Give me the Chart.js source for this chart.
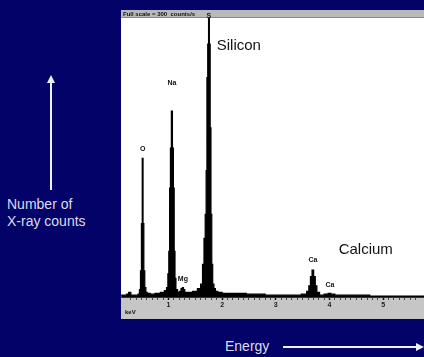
<!DOCTYPE html>
<html>
<head>
<meta charset="utf-8">
<script src="https://cdn.jsdelivr.net/npm/chart.js@4"></script>
<style>
  html, body { margin: 0; padding: 0; }
  body {
    width: 424px; height: 357px; overflow: hidden; position: relative;
    background: #020268; font-family: "Liberation Sans", Arial, sans-serif;
  }
  #spectrum { position: absolute; left: 121px; top: 10px; }
  .note { position: absolute; color: #dcdcec; font-size: 14px; line-height: 17px; }
  .vline { position: absolute; left: 50px; top: 82px; width: 2px; height: 108px; background: #f0f0f8; }
  .vhead { position: absolute; left: 47px; top: 75px; width: 0; height: 0;
    border-left: 4px solid transparent; border-right: 4px solid transparent; border-bottom: 8px solid #f0f0f8; }
  .hline { position: absolute; left: 283px; top: 346px; width: 134px; height: 2px; background: #f0f0f8; }
  .hhead { position: absolute; left: 416px; top: 343px; width: 0; height: 0;
    border-top: 4px solid transparent; border-bottom: 4px solid transparent; border-left: 8px solid #f0f0f8; }
</style>
</head>
<body>
<div class="vhead"></div>
<div class="vline"></div>
<div class="note" style="left:7px; top:196px;">Number of<br>X-ray counts</div>
<div class="note" style="left:225px; top:338px;">Energy</div>
<div class="hline"></div>
<div class="hhead"></div>
<canvas id="spectrum" width="303" height="309"></canvas>
<script>
// spectrum: energy (keV) and counts
var energies = [0.12, 0.20, 0.25, 0.27, 0.29, 0.31, 0.36, 0.42, 0.45, 0.47, 0.49, 0.505, 0.52, 0.535,
  0.55, 0.57, 0.59, 0.62, 0.70, 0.80, 0.90, 0.95, 0.98, 1.00, 1.015, 1.03, 1.045, 1.065, 1.085,
  1.10, 1.115, 1.13, 1.15, 1.19, 1.22, 1.25, 1.27, 1.29, 1.32, 1.40, 1.50, 1.58, 1.62, 1.65, 1.675,
  1.695, 1.71, 1.725, 1.74, 1.755, 1.77, 1.785, 1.80, 1.815, 1.835, 1.86, 1.89, 1.95, 2.05, 2.30,
  2.60, 3.00, 3.40, 3.55, 3.60, 3.63, 3.66, 3.69, 3.72, 3.75, 3.78, 3.85, 3.95, 4.00, 4.05, 4.15,
  4.50, 5.00, 5.76];
var counts = [2, 2, 3, 5, 5, 2, 2, 2, 3, 8, 28, 79, 149, 79,
  28, 10, 5, 4, 3, 4, 5, 7, 10, 25, 49, 117, 160, 200, 160,
  117, 49, 20, 8, 5, 6, 9, 10, 8, 5, 5, 6, 9, 14, 35, 63,
  89, 136, 236, 272, 310, 272, 182, 89, 35, 14, 9, 6, 5, 4, 4,
  3, 2, 2, 3, 6, 12, 22, 29, 22, 12, 5, 2, 3, 4, 3, 2,
  2, 1, 1];

// element markers on the peaks
var peakNames = ["O", "Na", "Mg", "S", "Ca", "Ca"];
var peakEnergies = [0.52, 1.065, 1.27, 1.755, 3.69, 4.01];
var peakLabelCounts = [155, 226, 16, 298, 36, 9];

// big annotations
var noteNames = ["Silicon", "Calcium"];
var noteEnergies = [1.90, 4.17];
var noteCounts = [270, 51];

var xMin = 0.117;
var xMax = 5.76;
var fullScale = 300;

var points = energies.map(function (e, i) { return { x: e, y: counts[i] }; });

var panelPlugin = {
  id: "panel",
  beforeDraw: function (chart) {
    var ctx = chart.ctx;
    var a = chart.chartArea;
    var w = chart.width, h = chart.height;
    ctx.save();
    ctx.fillStyle = "#b9b9b9";
    ctx.fillRect(0, 0, w, a.top);
    ctx.fillStyle = "#8a8a8a";
    ctx.fillRect(0, a.top - 1, w, 1);
    ctx.fillStyle = "#ffffff";
    ctx.fillRect(0, a.top, w, a.bottom - a.top);
    ctx.fillStyle = "#c6c6c6";
    ctx.fillRect(0, a.bottom, w, h - a.bottom);
    ctx.fillStyle = "#111";
    ctx.font = "bold 6px 'Liberation Sans', Arial, sans-serif";
    ctx.textBaseline = "middle";
    ctx.fillText("Full scale = 300  counts/s", 2, a.top / 2);
    ctx.fillText("keV", 4, h - 7);
    ctx.restore();
  },
  afterDatasetsDraw: function (chart) {
    var ctx = chart.ctx;
    var xs = chart.scales.x, ys = chart.scales.y;
    ctx.save();
    ctx.fillStyle = "#111";
    ctx.textAlign = "center";
    ctx.textBaseline = "bottom";
    ctx.font = "bold 7px 'Liberation Sans', Arial, sans-serif";
    peakNames.forEach(function (name, i) {
      ctx.fillText(name, xs.getPixelForValue(peakEnergies[i]), ys.getPixelForValue(peakLabelCounts[i]));
    });
    ctx.textAlign = "left";
    ctx.textBaseline = "middle";
    ctx.font = "15px 'Liberation Sans', Arial, sans-serif";
    noteNames.forEach(function (name, i) {
      ctx.fillText(name, xs.getPixelForValue(noteEnergies[i]), ys.getPixelForValue(noteCounts[i]));
    });
    ctx.restore();
  }
};

new Chart(document.getElementById("spectrum"), {
  type: "line",
  data: {
    datasets: [{
      data: points,
      stepped: "middle",
      fill: "origin",
      backgroundColor: "#000",
      borderColor: "#000",
      borderWidth: 1.2,
      pointRadius: 0
    }]
  },
  options: {
    responsive: false,
    devicePixelRatio: 1,
    animation: false,
    layout: { padding: { top: 8, left: 0, right: 0, bottom: 0 } },
    plugins: { legend: { display: false }, tooltip: { enabled: false } },
    scales: {
      x: {
        type: "linear",
        min: xMin,
        max: xMax,
        afterBuildTicks: function (scale) {
          scale.ticks = scale.ticks.filter(function (t) {
            return Math.abs(t.value * 10 - Math.round(t.value * 10)) < 1e-6;
          });
        },
        afterFit: function (scale) { scale.height = 22; },
        ticks: {
          stepSize: 0.1,
          autoSkip: false,
          maxRotation: 0,
          padding: 1,
          color: "#222",
          font: { size: 7, weight: "bold", family: "'Liberation Sans', Arial, sans-serif" },
          callback: function (v) {
            return Math.abs(v - Math.round(v)) < 1e-6 ? String(Math.round(v)) : "";
          }
        },
        grid: {
          drawOnChartArea: false,
          drawTicks: true,
          tickLength: 3,
          tickColor: function (c) {
            return c.tick && Math.abs(c.tick.value - Math.round(c.tick.value)) < 1e-6 ? "#111" : "#444";
          },
          tickWidth: function (c) {
            return c.tick && Math.abs(c.tick.value - Math.round(c.tick.value)) < 1e-6 ? 1.5 : 1;
          }
        },
        border: { display: true, color: "#333", width: 1 }
      },
      y: {
        display: false,
        min: 0,
        max: fullScale
      }
    }
  },
  plugins: [panelPlugin]
});
</script>
</body>
</html>
